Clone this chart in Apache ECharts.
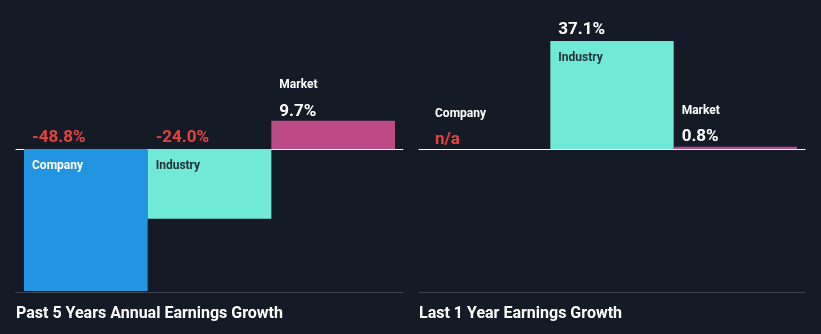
<!DOCTYPE html>
<html>
<head>
<meta charset="utf-8">
<script src="https://cdn.jsdelivr.net/npm/echarts@6/dist/echarts.min.js"></script>
<style>
html,body{margin:0;padding:0;background:#151b26;}
#chart{width:821px;height:334px;}
</style>
</head>
<body>
<div id="chart"></div>
<script>
const categories = ['Company', 'Industry', 'Market'];
const past5Years = [-48.8, -24.0, 9.7];
const last1Year = [null, 37.1, 0.8];
const panelTitles = ['Past 5 Years Annual Earnings Growth', 'Last 1 Year Earnings Growth'];

const barColors = ['#2394df', '#70e9d6', '#bb4a86'];
const nameColors = ['#ffffff', '#24323a', '#ffffff'];
const RED = '#e5433f';

function buildData(vals) {
  return vals.map(function (v, i) {
    const txt = v == null ? 'n/a' : v.toFixed(1) + '%';
    const vColor = (v == null || v < 0) ? RED : '#ffffff';
    const inside = v != null && Math.abs(v) >= 15;
    const lh = inside ? 28 : 26;
    const rich = {
      v: { fontSize: 17, fontWeight: 'bold', color: vColor, lineHeight: lh, fontFamily: 'Roboto' },
      n: { fontSize: 12, fontWeight: 'bold', color: inside ? nameColors[i] : '#ffffff', lineHeight: lh, fontFamily: 'Roboto' }
    };
    return {
      value: v == null ? 0 : v,
      itemStyle: { color: barColors[i] },
      label: {
        show: true,
        position: [8, inside ? -25 : -48.5],
        align: 'left',
        verticalAlign: 'top',
        rich: rich,
        formatter: inside
          ? '{v|' + txt + '}\n{n|' + categories[i] + '}'
          : '{n|' + categories[i] + '}\n{v|' + txt + '}'
      }
    };
  });
}

const chart = echarts.init(document.getElementById('chart'), null, { renderer: 'canvas' });

const hiddenY = { type: 'value', min: -50, max: 50, show: false };
const frameY = { type: 'value', min: 0, max: 1, show: false };

const option = {
  backgroundColor: '#151b26',
  animation: false,
  textStyle: { fontFamily: 'Roboto' },
  title: [
    { text: panelTitles[0], left: 16, top: 306, textStyle: { color: '#ffffff', fontSize: 16, fontWeight: 'bold', lineHeight: 16, fontFamily: 'Roboto' }, padding: 0 },
    { text: panelTitles[1], left: 419, top: 306, textStyle: { color: '#ffffff', fontSize: 16, fontWeight: 'bold', lineHeight: 16, fontFamily: 'Roboto' }, padding: 0 }
  ],
  grid: [
    { left: 24, width: 371, top: 3.5, height: 291 },
    { left: 427, width: 370, top: 3.5, height: 291 },
    { left: 16, width: 387, top: 149, height: 143 },
    { left: 419, width: 386, top: 149, height: 143 }
  ],
  xAxis: [
    { type: 'category', data: categories, gridIndex: 0, show: false },
    { type: 'category', data: categories, gridIndex: 1, show: false },
    { type: 'value', gridIndex: 2, position: 'top', min: 0, max: 1, axisLine: { show: true, onZero: false, lineStyle: { color: '#ffffff', width: 1 } }, axisTick: { show: false }, axisLabel: { show: false }, splitLine: { show: false } },
    { type: 'value', gridIndex: 2, position: 'bottom', min: 0, max: 1, axisLine: { show: true, onZero: false, lineStyle: { color: '#3b414d', width: 1 } }, axisTick: { show: false }, axisLabel: { show: false }, splitLine: { show: false } },
    { type: 'value', gridIndex: 3, position: 'top', min: 0, max: 1, axisLine: { show: true, onZero: false, lineStyle: { color: '#ffffff', width: 1 } }, axisTick: { show: false }, axisLabel: { show: false }, splitLine: { show: false } },
    { type: 'value', gridIndex: 3, position: 'bottom', min: 0, max: 1, axisLine: { show: true, onZero: false, lineStyle: { color: '#3b414d', width: 1 } }, axisTick: { show: false }, axisLabel: { show: false }, splitLine: { show: false } }
  ],
  yAxis: [
    Object.assign({ gridIndex: 0 }, hiddenY),
    Object.assign({ gridIndex: 1 }, hiddenY),
    Object.assign({ gridIndex: 2 }, frameY),
    Object.assign({ gridIndex: 3 }, frameY)
  ],
  series: [
    { type: 'bar', xAxisIndex: 0, yAxisIndex: 0, barCategoryGap: '0%', data: buildData(past5Years), z: 2 },
    { type: 'bar', xAxisIndex: 1, yAxisIndex: 1, barCategoryGap: '0%', data: buildData(last1Year), z: 2 }
  ]
};
chart.setOption(option);
</script>
</body>
</html>
